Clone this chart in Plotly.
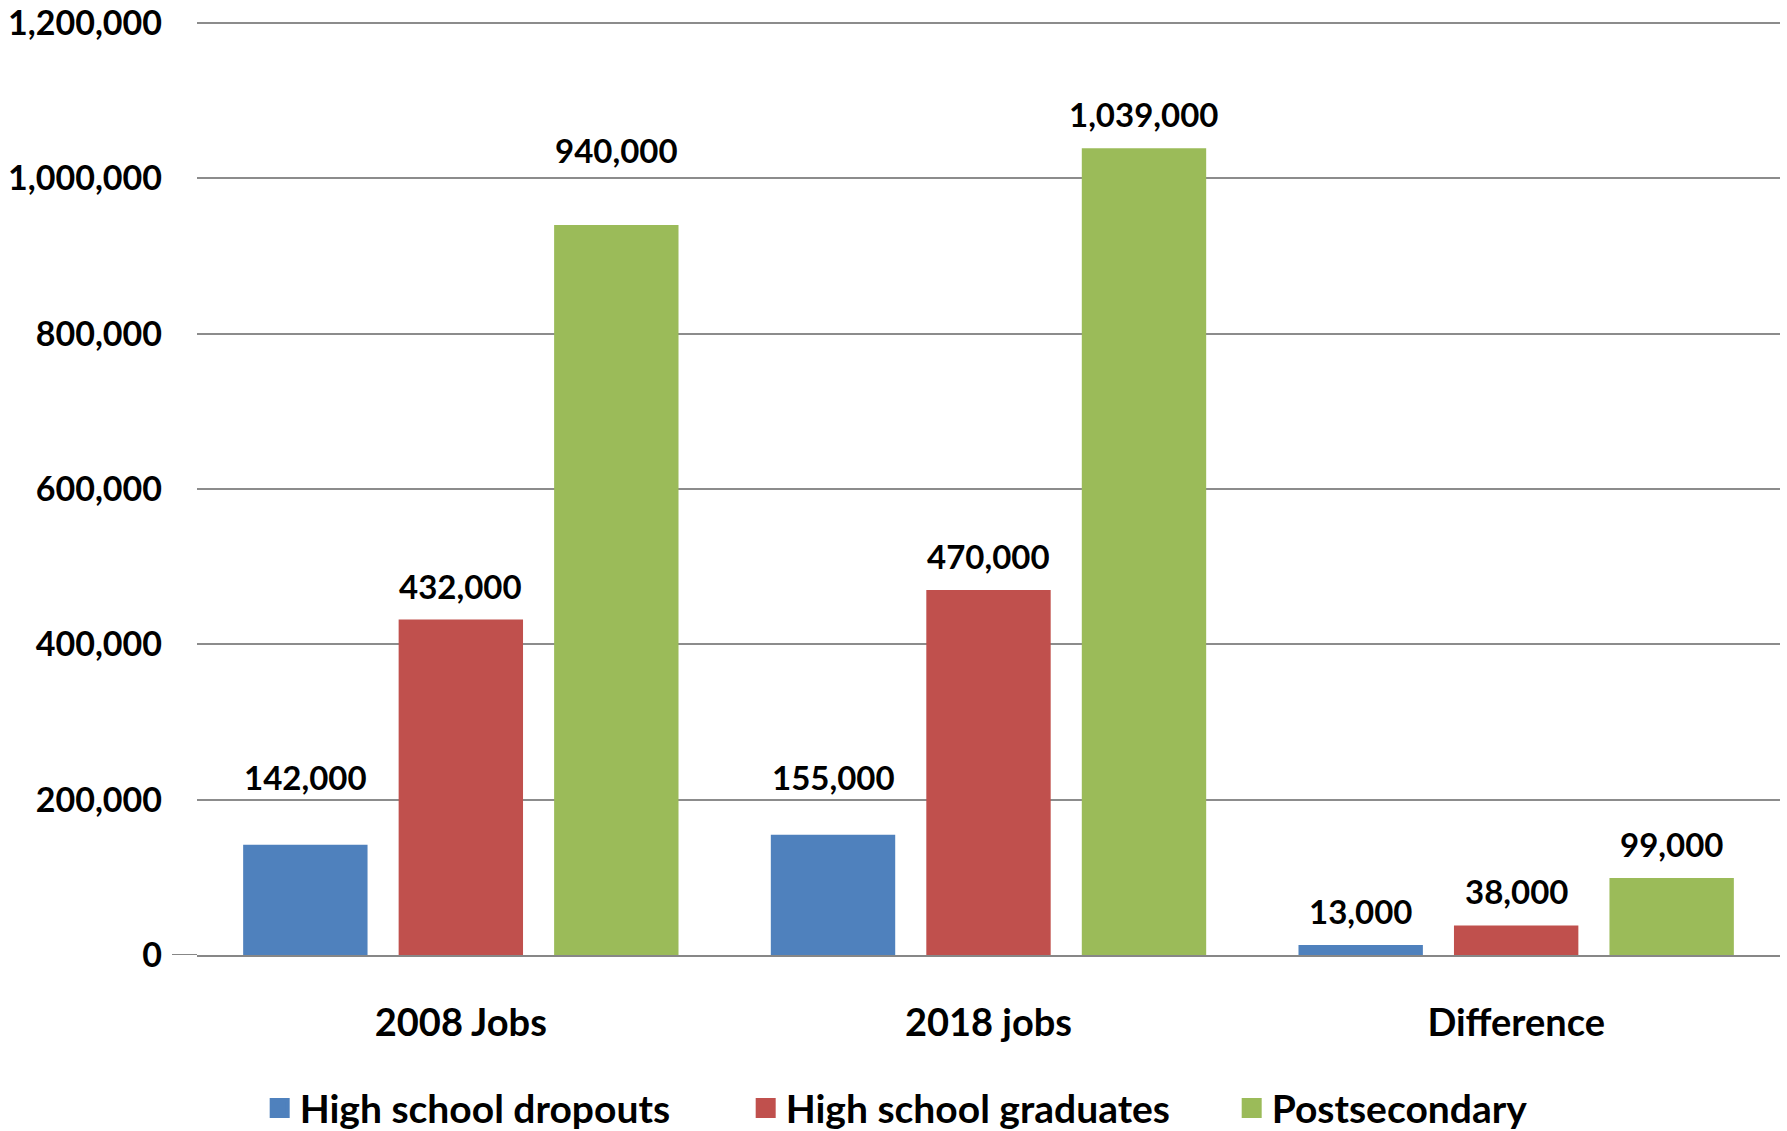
import plotly.graph_objects as go

categories = ["2008 Jobs", "2018 jobs", "Difference"]
series_names = ["High school dropouts", "High school graduates", "Postsecondary"]
dropouts = [142000, 155000, 13000]
graduates = [432000, 470000, 38000]
postsecondary = [940000, 1039000, 99000]
y_tick_values = [0, 200000, 400000, 600000, 800000, 1000000, 1200000]

series_values = [dropouts, graduates, postsecondary]
colors = ["#4F81BD", "#C0504D", "#9BBB59"]
# pixel lift of each data label above its bar top (per series, per category)
label_lift = [[68, 58, 34], [34, 34, 34], [75, 34, 34]]

FONT = "Lato"
bargap = 0.116
bargroupgap = 0.2
ML, MR = 197, 7
plot_w = 1787 - ML - MR

fig = go.Figure()
xs = list(range(len(categories)))
for name, vals, col in zip(series_names, series_values, colors):
    fig.add_trace(go.Bar(x=xs, y=vals, name=name, showlegend=False,
                         marker=dict(color=col, line=dict(width=0))))
# legend entries with larger square swatches
for name, col in zip(series_names, colors):
    fig.add_trace(go.Scatter(x=[None], y=[None], mode="markers", name=name,
                             marker=dict(symbol="square", size=16, color=col,
                                         line=dict(width=4, color=col))))

slot = (1 - bargap) / len(series_values)
annotations = []
for si, vals in enumerate(series_values):
    off = (si - (len(series_values) - 1) / 2) * slot
    for ci, v in enumerate(vals):
        annotations.append(dict(
            x=xs[ci] + off, y=v, xref="x", yref="y",
            text=f"{v:,}", showarrow=False, yshift=label_lift[si][ci],
            font=dict(family=FONT, size=33, color="black", weight="bold"),
            yanchor="middle", xanchor="center"))

fig.update_layout(
    width=1787, height=1131,
    paper_bgcolor="white", plot_bgcolor="white",
    margin=dict(l=ML, r=MR, t=22, b=176),
    barmode="group", bargap=bargap, bargroupgap=bargroupgap,
    font=dict(family=FONT, color="black"),
    annotations=annotations,
    showlegend=True,
    legend=dict(orientation="h", x=0.0396, xanchor="left",
                yref="container", y=0.0203, yanchor="middle",
                font=dict(family=FONT, size=39, color="black", weight="bold"),
                entrywidth=441, traceorder="normal", itemsizing="trace"),
    shapes=[dict(type="line", xref="paper", yref="y", x0=-25 / plot_w, x1=0,
                 y0=0, y1=0, line=dict(color="#878787", width=2))],
)
fig.update_xaxes(
    tickmode="array", tickvals=xs, ticktext=categories,
    range=[-0.5, len(categories) - 0.5],
    tickfont=dict(family=FONT, size=38, color="black", weight="bold"),
    showgrid=False, showline=True, linecolor="#878787", linewidth=2,
    ticks="", ticklabelstandoff=33, zeroline=False, automargin=False,
)
fig.update_yaxes(
    range=[0, 1201500], tickmode="array", tickvals=y_tick_values,
    ticktext=[f"{v:,}" for v in y_tick_values],
    tickfont=dict(family=FONT, size=34, color="black", weight="bold"),
    showgrid=True, gridcolor="#8c8c8c", gridwidth=2,
    zeroline=False, showline=False, ticks="", ticklabelstandoff=34,
    automargin=False,
)

fig.write_html("out.html", config={"displayModeBar": False},
               post_script="document.body.style.margin='0px';document.body.style.overflow='hidden';")
